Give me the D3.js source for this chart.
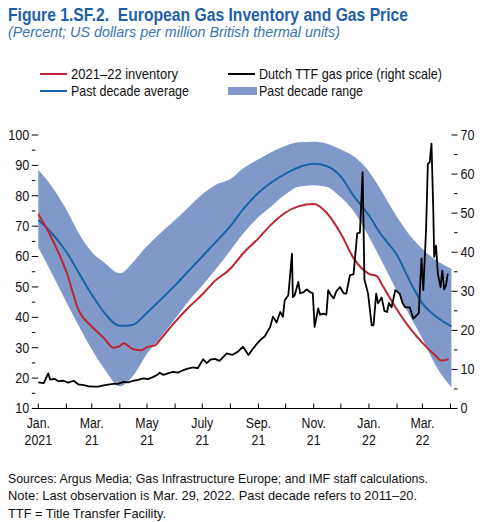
<!DOCTYPE html>
<html>
<head>
<meta charset="utf-8">
<script src="https://cdn.jsdelivr.net/npm/d3@7"></script>
<style>
  body { margin: 0; background: #fff; }
  text { font-family: 'Liberation Sans', Arial, sans-serif; }
</style>
</head>
<body>
<div id="chart"></div>
<script>
// past decade (2011-20) seasonal profile, percent full
const decade_dates = ['2021-01-01', '2021-01-15', '2021-02-01', '2021-02-15', '2021-03-01', '2021-03-15',
  '2021-04-01', '2021-04-15', '2021-05-01', '2021-05-15', '2021-06-01', '2021-06-15', '2021-07-01',
  '2021-07-15', '2021-08-01', '2021-08-15', '2021-09-01', '2021-09-15', '2021-10-01', '2021-10-15',
  '2021-11-01', '2021-11-15', '2021-12-01', '2021-12-15', '2022-01-01', '2022-01-15', '2022-02-01',
  '2022-02-15', '2022-03-01', '2022-03-15', '2022-04-02'];
const decade_avg = [72, 68, 61.5, 54.5, 47.5, 41.5, 37.2, 37.5, 41.5, 45.5, 50.5, 55, 60, 64.5, 70,
  75.5, 81, 84.3, 87.3, 89.3, 90.5, 89.8, 86.3, 80, 73.5, 67, 60.5, 52, 44.6, 40.5, 37];
const decade_high = [88.5, 83.5, 75.5, 67.5, 61.5, 58, 54.5, 58, 63.5, 67.5, 72, 76, 80.5, 83.5, 85.5,
  89, 92, 94.3, 96.5, 97.6, 97.8, 97.2, 95.2, 93, 88, 81.5, 73, 67, 62.5, 59, 56];
const decade_low = [63, 55, 45, 37, 29.5, 23, 17.3, 20.5, 28, 33, 39.5, 45, 50.5, 55.5, 62, 67.5, 73,
  76.5, 80.5, 83, 83.5, 83, 79.5, 75, 66.5, 58.5, 48.5, 40.5, 33, 24.5, 17];

// 2021-22 inventory, percent full
const inventory_dates = ['2021-01-01', '2021-01-15', '2021-02-01', '2021-02-15', '2021-03-01',
  '2021-03-15', '2021-03-25', '2021-04-01', '2021-04-05', '2021-04-15', '2021-04-25', '2021-05-01',
  '2021-05-10', '2021-05-15', '2021-06-01', '2021-06-15', '2021-07-01', '2021-07-15', '2021-08-01',
  '2021-08-15', '2021-09-01', '2021-09-15', '2021-10-01', '2021-10-15', '2021-11-01', '2021-11-15',
  '2021-12-01', '2021-12-15', '2022-01-01', '2022-01-10', '2022-01-15', '2022-02-01', '2022-02-15',
  '2022-03-01', '2022-03-15', '2022-03-22', '2022-03-30'];
const inventory = [74, 66.5, 55, 42, 37, 33, 30, 30.5, 31.5, 29.6, 29.2, 30.2, 30.8, 32.5, 38.5, 43,
  47.5, 52, 56, 61, 66, 70.5, 74.5, 76.5, 77.3, 74.5, 67.5, 59.5, 54.3, 53.5, 51, 42.5, 36.5, 31.6,
  27.5, 25.8, 26.2];

// Dutch TTF price, US$ per MMBtu (right scale)
const ttf_dates = ['2021-01-01', '2021-01-07', '2021-01-12', '2021-01-14', '2021-01-19', '2021-01-23',
  '2021-01-29', '2021-02-03', '2021-02-09', '2021-02-14', '2021-02-20', '2021-02-25', '2021-03-03',
  '2021-03-08', '2021-03-14', '2021-03-19', '2021-03-25', '2021-03-30', '2021-04-05', '2021-04-10',
  '2021-04-16', '2021-04-21', '2021-04-27', '2021-05-02', '2021-05-08', '2021-05-13', '2021-05-15',
  '2021-05-19', '2021-05-24', '2021-05-30', '2021-06-04', '2021-06-10', '2021-06-15', '2021-06-21',
  '2021-06-26', '2021-07-02', '2021-07-06', '2021-07-10', '2021-07-15', '2021-07-20', '2021-07-28',
  '2021-08-03', '2021-08-09', '2021-08-15', '2021-08-21', '2021-08-25', '2021-08-29', '2021-09-03',
  '2021-09-08', '2021-09-14', '2021-09-17', '2021-09-21', '2021-09-25', '2021-09-28', '2021-09-30',
  '2021-10-04', '2021-10-08', '2021-10-09', '2021-10-11', '2021-10-15', '2021-10-17', '2021-10-21',
  '2021-10-24', '2021-10-28', '2021-10-31', '2021-11-02', '2021-11-06', '2021-11-08', '2021-11-12',
  '2021-11-15', '2021-11-17', '2021-11-20', '2021-11-23', '2021-11-26', '2021-11-30', '2021-12-04',
  '2021-12-07', '2021-12-11', '2021-12-15', '2021-12-19', '2021-12-22', '2021-12-25', '2021-12-27',
  '2021-12-31', '2022-01-04', '2022-01-06', '2022-01-09', '2022-01-11', '2022-01-15', '2022-01-18',
  '2022-01-21', '2022-01-23', '2022-01-26', '2022-01-30', '2022-02-04', '2022-02-07', '2022-02-10',
  '2022-02-15', '2022-02-19', '2022-02-25', '2022-02-26', '2022-02-28', '2022-03-02', '2022-03-05',
  '2022-03-07', '2022-03-09', '2022-03-11', '2022-03-13', '2022-03-14', '2022-03-16', '2022-03-18',
  '2022-03-21', '2022-03-23', '2022-03-25', '2022-03-27', '2022-03-29'];
const ttf_price = [6.7, 6.5, 9.0, 7.4, 7.6, 7.0, 7.1, 6.6, 7.1, 6.2, 6.0, 5.7, 5.6, 5.6, 5.9, 6.1,
  6.3, 6.3, 6.8, 6.7, 7.1, 7.3, 7.7, 7.5, 8.1, 8.7, 9.15, 8.6, 9.0, 9.4, 9.2, 9.8, 10.2, 10.5, 10.3,
  12.6, 11.6, 12.5, 12.7, 12.2, 14.1, 13.7, 14.5, 15.8, 13.7, 15.0, 16.2, 17.5, 18.5, 20.9, 23.5,
  22.0, 24.7, 23.5, 27.7, 29, 39.6, 28.5, 29.0, 32.4, 29.5, 29.8, 30.5, 29.8, 29.5, 20.9, 25.6, 24.0,
  24.3, 24.0, 30.3, 29.0, 28.2, 30.0, 31.1, 29.5, 29.4, 34.1, 34.4, 44.8, 45, 60.5, 33, 29.4, 21.3,
  21.3, 29.4, 26.9, 28.4, 25, 24.7, 27, 25.9, 30.3, 29.4, 27, 25.9, 25.9, 23, 24.4, 29.4, 38.4, 30.3,
  45.6, 62.6, 63, 67.8, 50.7, 38.8, 41.7, 34.5, 31.1, 35.3, 30.5, 31.5, 34.5];

const tick_months = ['2021-01-01', '2021-02-01', '2021-03-01', '2021-04-01', '2021-05-01', '2021-06-01',
  '2021-07-01', '2021-08-01', '2021-09-01', '2021-10-01', '2021-11-01', '2021-12-01', '2022-01-01',
  '2022-02-01', '2022-03-01', '2022-04-01'];
const tick_labels = [['Jan.', '2021'], null, ['Mar.', '21'], null, ['May', '21'], null, ['July', '21'], null,
  ['Sep.', '21'], null, ['Nov.', '21'], null, ['Jan.', '22'], null, ['Mar.', '22'], null];
const left_ticks = [10, 20, 30, 40, 50, 60, 70, 80, 90, 100];
const right_ticks = [0, 10, 20, 30, 40, 50, 60, 70];

const parse = d3.timeParse('%Y-%m-%d');

const svg_width = 487,
  svg_height = 522;
const margin = {
    top: 135,
    right: 35,
    bottom: 113.5,
    left: 38.3
  },
  width = svg_width - margin.left - margin.right,
  height = svg_height - margin.top - margin.bottom;

const c_red = '#bd2430',
  c_blue = '#1763aa',
  c_band = '#8199c9',
  c_title = '#1f5fa8';

const svg = d3.select('#chart')
  .append('svg')
  .attr('width', svg_width)
  .attr('height', svg_height);

// condensed look: squeeze a text to the width it has in the original
function fit(sel, w) {
  sel.attr('textLength', w).attr('lengthAdjust', 'spacingAndGlyphs');
}
// or to a share of its own natural width
function narrow(sel, k) {
  sel.each(function () {
    const w = this.getComputedTextLength();
    d3.select(this).attr('textLength', w * k).attr('lengthAdjust', 'spacingAndGlyphs');
  });
}

// title block
svg.append('text')
  .attr('x', 8)
  .attr('y', 21)
  .attr('fill', c_title)
  .style('font-weight', 'bold')
  .style('font-size', '18px')
  .text('Figure 1.SF.2.\u00a0 European Gas Inventory and Gas Price')
  .call(fit, 400);

svg.append('text')
  .attr('x', 8)
  .attr('y', 37)
  .attr('fill', '#3b72b6')
  .style('font-style', 'italic')
  .style('font-size', '14.5px')
  .text('(Percent; US dollars per million British thermal units)')
  .call(fit, 332);

const g = svg.append('g')
  .attr('transform', 'translate(' + margin.left + ',' + margin.top + ')');

const x = d3.scaleTime()
  .domain([parse('2021-01-01'), parse('2022-04-01')])
  .range([0, 412.2]);
const y_left = d3.scaleLinear()
  .domain([10, 100])
  .range([height, 0]);
const y_right = d3.scaleLinear()
  .domain([0, 70])
  .range([height, 0]);

const band_data = decade_dates.map(function (d, i) {
  return {
    date: parse(d),
    avg: decade_avg[i],
    high: decade_high[i],
    low: decade_low[i]
  };
});
const inv_data = inventory_dates.map(function (d, i) {
  return { date: parse(d), value: inventory[i] };
});
const ttf_data = ttf_dates.map(function (d, i) {
  return { date: parse(d), value: ttf_price[i] };
});

g.append('path')
  .datum(band_data)
  .attr('fill', c_band)
  .attr('d', d3.area()
    .curve(d3.curveMonotoneX)
    .x(function (d) { return x(d.date); })
    .y0(function (d) { return y_left(d.low); })
    .y1(function (d) { return y_left(d.high); }));

g.append('path')
  .datum(band_data)
  .attr('fill', 'none')
  .attr('stroke', c_blue)
  .attr('stroke-width', 2)
  .attr('d', d3.line()
    .curve(d3.curveMonotoneX)
    .x(function (d) { return x(d.date); })
    .y(function (d) { return y_left(d.avg); }));

g.append('path')
  .datum(inv_data)
  .attr('fill', 'none')
  .attr('stroke', c_red)
  .attr('stroke-width', 2)
  .attr('d', d3.line()
    .curve(d3.curveMonotoneX)
    .x(function (d) { return x(d.date); })
    .y(function (d) { return y_left(d.value); }));

g.append('path')
  .datum(ttf_data)
  .attr('fill', 'none')
  .attr('stroke', '#000')
  .attr('stroke-width', 1.8)
  .attr('stroke-linejoin', 'round')
  .attr('d', d3.line()
    .x(function (d) { return x(d.date); })
    .y(function (d) { return y_right(d.value); }));

// x axis: monthly ticks pointing up, labels every other month
const x_axis = g.append('g')
  .attr('transform', 'translate(0,' + height + ')');
x_axis.append('line')
  .attr('x1', 0)
  .attr('x2', width)
  .attr('stroke', '#000')
  .attr('stroke-width', 1);
x_axis.selectAll('.xtick')
  .data(tick_months)
  .enter()
  .append('line')
  .attr('x1', function (d) { return x(parse(d)); })
  .attr('x2', function (d) { return x(parse(d)); })
  .attr('y1', 0)
  .attr('y2', -5)
  .attr('stroke', '#000');
tick_months.forEach(function (d, i) {
  if (!tick_labels[i]) return;
  tick_labels[i].forEach(function (s, k) {
    x_axis.append('text')
      .attr('x', x(parse(d)))
      .attr('y', 19.5 + k * 17)
      .attr('text-anchor', 'middle')
      .style('font-size', '14px')
      .attr('fill', '#111')
      .text(s)
      .call(narrow, 0.88);
  });
});

// left axis
const l_axis = g.append('g');
l_axis.selectAll('line')
  .data(d3.range(10, 101, 5))
  .enter()
  .append('line')
  .attr('x1', -6.5)
  .attr('x2', function (d) { return d % 10 === 0 ? 0 : -3; })
  .attr('y1', function (d) { return y_left(d); })
  .attr('y2', function (d) { return y_left(d); })
  .attr('stroke', '#000');
l_axis.selectAll('text')
  .data(left_ticks)
  .enter()
  .append('text')
  .attr('x', -9)
  .attr('y', function (d) { return y_left(d); })
  .attr('dy', '0.35em')
  .attr('text-anchor', 'end')
  .style('font-size', '14px')
  .attr('fill', '#111')
  .text(function (d) { return d; })
  .call(narrow, 0.9);

// right axis
const r_axis = g.append('g')
  .attr('transform', 'translate(' + (width - 0.5) + ',0)');
r_axis.selectAll('line')
  .data(d3.range(0, 71, 5))
  .enter()
  .append('line')
  .attr('x1', function (d) { return d % 10 === 0 ? 0 : 2.5; })
  .attr('x2', 6)
  .attr('y1', function (d) { return y_right(d); })
  .attr('y2', function (d) { return y_right(d); })
  .attr('stroke', '#000');
r_axis.selectAll('text')
  .data(right_ticks)
  .enter()
  .append('text')
  .attr('x', 9)
  .attr('y', function (d) { return y_right(d); })
  .attr('dy', '0.35em')
  .style('font-size', '14px')
  .attr('fill', '#111')
  .text(function (d) { return d; })
  .call(narrow, 0.9);

// legend
const legend = svg.append('g')
  .style('font-size', '14.5px');
const legend_items = [
  { label: '2021\u201322 inventory', x: 40, y: 74, w: 107, type: 'line', color: c_red },
  { label: 'Past decade average', x: 40, y: 91, w: 118, type: 'line', color: c_blue },
  { label: 'Dutch TTF gas price (right scale)', x: 228, y: 74, w: 183, type: 'line', color: '#000' },
  { label: 'Past decade range', x: 228, y: 91, w: 104, type: 'rect', color: c_band }
];
legend_items.forEach(function (d) {
  if (d.type === 'line') {
    legend.append('line')
      .attr('x1', d.x)
      .attr('x2', d.x + 27)
      .attr('y1', d.y)
      .attr('y2', d.y)
      .attr('stroke', d.color)
      .attr('stroke-width', 2);
  } else {
    legend.append('rect')
      .attr('x', d.x)
      .attr('y', d.y - 4)
      .attr('width', 29)
      .attr('height', 8)
      .attr('fill', d.color);
  }
  legend.append('text')
    .attr('x', d.x + 31)
    .attr('y', d.y)
    .attr('dy', '0.35em')
    .attr('fill', '#111')
    .text(d.label)
    .call(fit, d.w);
});

// notes
const notes = [
  'Sources: Argus Media; Gas Infrastructure Europe; and IMF staff calculations.',
  'Note: Last observation is Mar. 29, 2022. Past decade refers to 2011\u201320.',
  'TTF = Title Transfer Facility.'
];
const note_widths = [420, 409, 158];
svg.append('g')
  .selectAll('text')
  .data(notes)
  .enter()
  .append('text')
  .attr('x', 8)
  .attr('y', function (d, i) { return 482.5 + i * 17.5; })
  .style('font-size', '13.5px')
  .attr('fill', '#111')
  .text(function (d) { return d; })
  .each(function (d, i) { fit(d3.select(this), note_widths[i]); });
</script>
</body>
</html>
